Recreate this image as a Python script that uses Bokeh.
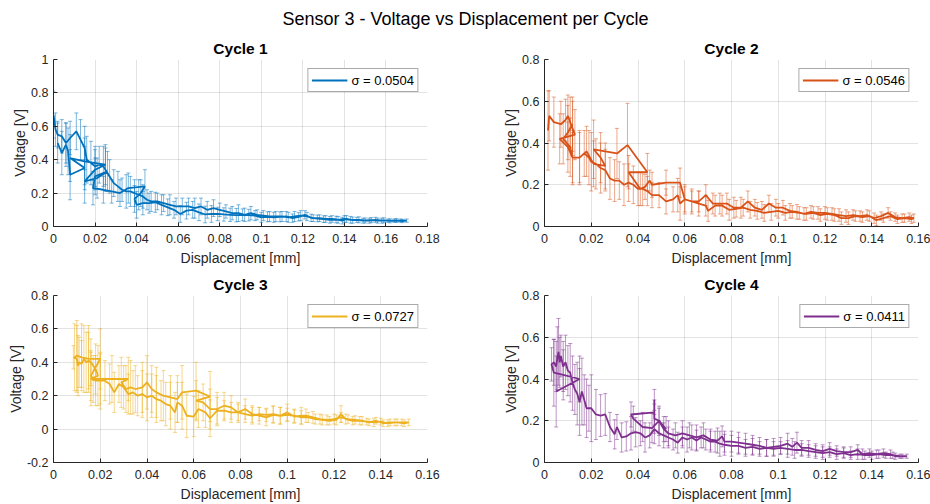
import numpy as np
from bokeh.plotting import figure
from bokeh.models import (ColumnDataSource, Whisker, TeeHead, FixedTicker, Legend,
                          LegendItem, Label, Range1d)
from bokeh.layouts import column, row
from bokeh.embed import file_html
from bokeh.resources import INLINE

FONT = "Liberation Sans"

# ---------------- data ----------------
suptitle = "Sensor 3 - Voltage vs Displacement per Cycle"
cycle_titles = ["Cycle 1", "Cycle 2", "Cycle 3", "Cycle 4"]
sigma_labels = ["σ = 0.0504", "σ = 0.0546", "σ = 0.0727", "σ = 0.0411"]
colors = ["#0072BD", "#D95319", "#EDB120", "#7E2F8E"]

x_ticks_1 = [0, 0.02, 0.04, 0.06, 0.08, 0.1, 0.12, 0.14, 0.16, 0.18]
x_labels_1 = ["0", "0.02", "0.04", "0.06", "0.08", "0.1", "0.12", "0.14", "0.16", "0.18"]
x_ticks_2 = [0, 0.02, 0.04, 0.06, 0.08, 0.1, 0.12, 0.14, 0.16]
x_labels_2 = ["0", "0.02", "0.04", "0.06", "0.08", "0.1", "0.12", "0.14", "0.16"]
y_ticks_1 = [0, 0.2, 0.4, 0.6, 0.8, 1]
y_labels_1 = ["0", "0.2", "0.4", "0.6", "0.8", "1"]
y_ticks_2 = [0, 0.2, 0.4, 0.6, 0.8]
y_labels_2 = ["0", "0.2", "0.4", "0.6", "0.8"]
y_ticks_3 = [-0.2, 0, 0.2, 0.4, 0.6, 0.8]
y_labels_3 = ["-0.2", "0", "0.2", "0.4", "0.6", "0.8"]

c1_disp = [
    0.000, 0.001, 0.002, 0.004, 0.006, 0.008, 0.011, 0.013, 0.015, 0.016,
    0.018, 0.020, 0.022, 0.024, 0.025, 0.027, 0.029, 0.031, 0.033, 0.035,
    0.037, 0.039, 0.041, 0.043, 0.045, 0.047, 0.050, 0.053, 0.056, 0.059,
    0.062, 0.065, 0.068, 0.071, 0.074, 0.077, 0.080, 0.083, 0.086, 0.089,
    0.092, 0.095, 0.098, 0.101, 0.104, 0.107, 0.110, 0.113, 0.116, 0.119,
    0.122, 0.125, 0.128, 0.131, 0.134, 0.137, 0.140, 0.143, 0.146, 0.149,
    0.152, 0.155, 0.158, 0.161, 0.164, 0.167, 0.170,
    0.168, 0.165, 0.162, 0.159, 0.156, 0.153, 0.150, 0.147, 0.144, 0.141,
    0.139, 0.136, 0.133, 0.130, 0.127, 0.124, 0.121, 0.118, 0.115, 0.112,
    0.109, 0.106, 0.103, 0.100, 0.097, 0.094, 0.091, 0.088, 0.085, 0.082,
    0.079, 0.076, 0.073, 0.070, 0.067, 0.064, 0.061, 0.058, 0.055, 0.052,
    0.049, 0.046, 0.043, 0.040, 0.039, 0.042, 0.044, 0.036, 0.032, 0.028,
    0.024, 0.019, 0.020, 0.026, 0.021, 0.015, 0.020, 0.025, 0.015, 0.008,
    0.015, 0.008, 0.007, 0.006, 0.004, 0.002]
c1_volt = [
    0.67, 0.58, 0.55, 0.54, 0.50, 0.53, 0.57, 0.52, 0.47, 0.40,
    0.38, 0.36, 0.37, 0.36, 0.34, 0.30, 0.26, 0.24, 0.22, 0.21,
    0.21, 0.20, 0.19, 0.18, 0.16, 0.15, 0.15, 0.14, 0.13, 0.12,
    0.12, 0.12, 0.11, 0.12, 0.10, 0.11, 0.10, 0.09, 0.08, 0.08,
    0.07, 0.08, 0.07, 0.065, 0.06, 0.06, 0.06, 0.055, 0.06, 0.065,
    0.06, 0.05, 0.05, 0.045, 0.045, 0.04, 0.045, 0.04, 0.04, 0.035,
    0.035, 0.04, 0.035, 0.035, 0.035, 0.035, 0.035,
    0.033, 0.036, 0.034, 0.037, 0.035, 0.038, 0.036, 0.040, 0.038, 0.045,
    0.035, 0.042, 0.040, 0.044, 0.048, 0.052, 0.070, 0.058, 0.050, 0.060,
    0.058, 0.055, 0.058, 0.055, 0.065, 0.068, 0.070, 0.068, 0.070, 0.072,
    0.075, 0.075, 0.072, 0.085, 0.10, 0.095, 0.075, 0.10, 0.115, 0.13,
    0.145, 0.14, 0.14, 0.13, 0.165, 0.20, 0.24, 0.23, 0.20, 0.21,
    0.22, 0.23, 0.30, 0.33, 0.29, 0.27, 0.34, 0.37, 0.39, 0.41,
    0.35, 0.31, 0.45, 0.49, 0.44, 0.50]
c1_err = [
    0.14, 0.10, 0.08, 0.10, 0.12, 0.10, 0.11, 0.12, 0.13, 0.14,
    0.13, 0.12, 0.11, 0.12, 0.13, 0.10, 0.08, 0.09, 0.07, 0.10,
    0.09, 0.08, 0.09, 0.07, 0.06, 0.06, 0.05, 0.05, 0.06, 0.05,
    0.05, 0.05, 0.06, 0.05, 0.05, 0.05, 0.04, 0.04, 0.04, 0.05,
    0.04, 0.04, 0.03, 0.03, 0.03, 0.03, 0.03, 0.03, 0.03, 0.03,
    0.025, 0.02, 0.02, 0.02, 0.02, 0.02, 0.02, 0.02, 0.015, 0.015,
    0.015, 0.015, 0.015, 0.01, 0.01, 0.01, 0.01,
    0.01, 0.012, 0.012, 0.015, 0.015, 0.015, 0.015, 0.018, 0.018, 0.02,
    0.02, 0.02, 0.02, 0.02, 0.02, 0.022, 0.025, 0.025, 0.025, 0.03,
    0.03, 0.03, 0.03, 0.03, 0.03, 0.035, 0.035, 0.04, 0.04, 0.04,
    0.04, 0.05, 0.05, 0.05, 0.05, 0.05, 0.05, 0.05, 0.05, 0.06,
    0.06, 0.06, 0.07, 0.08, 0.08, 0.08, 0.10, 0.09, 0.08, 0.07,
    0.08, 0.10, 0.11, 0.12, 0.12, 0.13, 0.12, 0.12, 0.14, 0.14,
    0.13, 0.15, 0.14, 0.13, 0.13, 0.12]

c2_disp = [
    0.0015, 0.002, 0.004, 0.007, 0.009, 0.010, 0.011, 0.012, 0.013, 0.0065,
    0.010, 0.012, 0.015, 0.017, 0.019, 0.020, 0.022, 0.024, 0.026, 0.028,
    0.030, 0.032, 0.034, 0.036, 0.038, 0.040, 0.042, 0.044, 0.046, 0.049,
    0.052, 0.055, 0.057, 0.058, 0.060, 0.063, 0.066, 0.069, 0.070, 0.073,
    0.076, 0.079, 0.082, 0.085, 0.088, 0.091, 0.094, 0.097, 0.100, 0.103,
    0.106, 0.109, 0.112, 0.115, 0.118, 0.121, 0.124, 0.127, 0.130, 0.133,
    0.136, 0.139, 0.142, 0.145, 0.148, 0.151, 0.154, 0.157, 0.158,
    0.156, 0.153, 0.150, 0.147, 0.144, 0.141, 0.138, 0.135, 0.132, 0.129,
    0.126, 0.123, 0.120, 0.117, 0.114, 0.111, 0.108, 0.105, 0.102, 0.099,
    0.096, 0.093, 0.090, 0.087, 0.084, 0.081, 0.078, 0.075, 0.072, 0.069,
    0.066, 0.063, 0.060, 0.058, 0.052, 0.046, 0.045, 0.043, 0.041, 0.036,
    0.044, 0.0355, 0.031, 0.021, 0.024, 0.026, 0.021, 0.018, 0.015, 0.012,
    0.011, 0.008, 0.010, 0.012]
c2_volt = [
    0.46, 0.53, 0.50, 0.49, 0.51, 0.53, 0.50, 0.47, 0.44, 0.42,
    0.38, 0.33, 0.33, 0.35, 0.33, 0.31, 0.30, 0.28, 0.27, 0.23,
    0.22, 0.22, 0.20, 0.21, 0.20, 0.18, 0.18, 0.17, 0.15, 0.15,
    0.12, 0.13, 0.15, 0.11, 0.13, 0.12, 0.11, 0.10, 0.075, 0.10,
    0.10, 0.08, 0.085, 0.09, 0.08, 0.075, 0.065, 0.07, 0.075, 0.065,
    0.07, 0.065, 0.06, 0.065, 0.055, 0.06, 0.055, 0.04, 0.04, 0.05,
    0.045, 0.05, 0.03, 0.04, 0.05, 0.035, 0.04, 0.035, 0.04,
    0.045, 0.04, 0.045, 0.065, 0.05, 0.04, 0.055, 0.05, 0.055, 0.05,
    0.055, 0.06, 0.065, 0.065, 0.07, 0.06, 0.07, 0.075, 0.09, 0.09,
    0.11, 0.08, 0.09, 0.12, 0.09, 0.09, 0.11, 0.11, 0.11, 0.15,
    0.12, 0.12, 0.13, 0.21, 0.21, 0.20, 0.22, 0.19, 0.18, 0.26,
    0.26, 0.39, 0.35, 0.37, 0.33, 0.29, 0.30, 0.36, 0.33, 0.33,
    0.38, 0.42, 0.45, 0.49]
c2_err = [
    0.19, 0.12, 0.12, 0.11, 0.10, 0.10, 0.12, 0.13, 0.12, 0.12,
    0.12, 0.13, 0.12, 0.11, 0.13, 0.14, 0.12, 0.12, 0.10, 0.10,
    0.10, 0.09, 0.10, 0.09, 0.09, 0.08, 0.08, 0.07, 0.06, 0.06,
    0.06, 0.06, 0.08, 0.08, 0.07, 0.06, 0.06, 0.05, 0.05, 0.05,
    0.05, 0.05, 0.04, 0.04, 0.04, 0.04, 0.04, 0.04, 0.035, 0.035,
    0.03, 0.03, 0.03, 0.03, 0.03, 0.03, 0.03, 0.03, 0.03, 0.025,
    0.025, 0.025, 0.025, 0.02, 0.02, 0.02, 0.02, 0.02, 0.02,
    0.02, 0.02, 0.02, 0.025, 0.02, 0.025, 0.025, 0.025, 0.025, 0.03,
    0.03, 0.03, 0.03, 0.03, 0.03, 0.03, 0.035, 0.035, 0.035, 0.04,
    0.04, 0.04, 0.04, 0.05, 0.05, 0.05, 0.05, 0.05, 0.05, 0.05,
    0.05, 0.05, 0.06, 0.07, 0.06, 0.06, 0.05, 0.06, 0.08, 0.08,
    0.09, 0.20, 0.12, 0.14, 0.12, 0.11, 0.11, 0.12, 0.13, 0.12,
    0.14, 0.12, 0.13, 0.13]

c3_disp = [
    0.0085, 0.010, 0.0105, 0.011, 0.012, 0.013, 0.014, 0.015, 0.016, 0.018,
    0.019, 0.016, 0.018, 0.020, 0.022, 0.024, 0.026, 0.028, 0.030, 0.032,
    0.034, 0.036, 0.038, 0.040, 0.042, 0.044, 0.046, 0.048, 0.050, 0.052,
    0.053, 0.055, 0.057, 0.060, 0.062, 0.065, 0.067, 0.070, 0.073, 0.076,
    0.079, 0.082, 0.085, 0.088, 0.091, 0.094, 0.097, 0.100, 0.103, 0.106,
    0.109, 0.112, 0.115, 0.118, 0.121, 0.123, 0.125, 0.128, 0.131, 0.134,
    0.137, 0.140, 0.143, 0.146, 0.149, 0.152,
    0.150, 0.147, 0.144, 0.141, 0.138, 0.135, 0.132, 0.129, 0.126, 0.123,
    0.120, 0.117, 0.114, 0.111, 0.108, 0.106, 0.103, 0.100, 0.097, 0.094,
    0.091, 0.088, 0.085, 0.082, 0.079, 0.076, 0.073, 0.070, 0.067, 0.064,
    0.061, 0.067, 0.061, 0.055, 0.053, 0.050, 0.047, 0.044, 0.042, 0.040,
    0.038, 0.035, 0.033, 0.031, 0.029, 0.032, 0.025, 0.020, 0.017, 0.016,
    0.020, 0.015, 0.012, 0.010, 0.009]
c3_volt = [
    0.43, 0.42, 0.38, 0.40, 0.39, 0.42, 0.40, 0.41, 0.40, 0.36,
    0.32, 0.30, 0.29, 0.29, 0.29, 0.27, 0.22, 0.27, 0.25, 0.21,
    0.22, 0.20, 0.21, 0.19, 0.20, 0.18, 0.17, 0.15, 0.14, 0.10,
    0.16, 0.14, 0.08, 0.075, 0.12, 0.10, 0.065, 0.11, 0.11, 0.10,
    0.10, 0.09, 0.08, 0.09, 0.085, 0.09, 0.08, 0.085, 0.08, 0.07,
    0.07, 0.06, 0.055, 0.05, 0.055, 0.09, 0.06, 0.05, 0.05, 0.045,
    0.04, 0.045, 0.035, 0.04, 0.04, 0.04,
    0.035, 0.04, 0.04, 0.035, 0.05, 0.04, 0.05, 0.055, 0.06, 0.07,
    0.06, 0.055, 0.06, 0.07, 0.08, 0.08, 0.075, 0.10, 0.08, 0.085,
    0.07, 0.08, 0.09, 0.12, 0.10, 0.13, 0.14, 0.12, 0.12, 0.16,
    0.17, 0.195, 0.23, 0.22, 0.18, 0.19, 0.20, 0.22, 0.24, 0.28,
    0.25, 0.24, 0.25, 0.24, 0.28, 0.30, 0.30, 0.30, 0.30, 0.32,
    0.42, 0.42, 0.43, 0.44, 0.43]
c3_err = [
    0.07, 0.20, 0.18, 0.15, 0.14, 0.20, 0.18, 0.17, 0.14, 0.15,
    0.18, 0.16, 0.15, 0.17, 0.12, 0.12, 0.12, 0.11, 0.13, 0.12,
    0.13, 0.12, 0.14, 0.14, 0.13, 0.14, 0.12, 0.13, 0.14, 0.12,
    0.12, 0.14, 0.13, 0.12, 0.11, 0.09, 0.11, 0.08, 0.06, 0.06,
    0.05, 0.05, 0.05, 0.04, 0.04, 0.05, 0.05, 0.04, 0.04, 0.04,
    0.03, 0.03, 0.03, 0.025, 0.03, 0.05, 0.03, 0.025, 0.025, 0.02,
    0.025, 0.02, 0.02, 0.02, 0.02, 0.02,
    0.02, 0.02, 0.02, 0.02, 0.02, 0.02, 0.025, 0.025, 0.025, 0.03,
    0.03, 0.03, 0.03, 0.035, 0.04, 0.05, 0.04, 0.05, 0.05, 0.05,
    0.05, 0.05, 0.05, 0.06, 0.06, 0.07, 0.08, 0.10, 0.12, 0.11,
    0.12, 0.15, 0.17, 0.16, 0.14, 0.13, 0.15, 0.15, 0.14, 0.16,
    0.15, 0.14, 0.16, 0.14, 0.15, 0.13, 0.14, 0.15, 0.14, 0.15,
    0.18, 0.20, 0.20, 0.21, 0.20]

c4_disp = [
    0.005, 0.015, 0.008, 0.004, 0.003, 0.004, 0.005, 0.0055, 0.006, 0.0065,
    0.007, 0.008, 0.009, 0.010, 0.011, 0.012, 0.013, 0.014, 0.015, 0.016,
    0.017, 0.018, 0.019, 0.020, 0.022, 0.024, 0.026, 0.028, 0.030, 0.031,
    0.033, 0.035, 0.037, 0.039, 0.041, 0.043, 0.045, 0.047, 0.049, 0.051,
    0.053, 0.055, 0.057, 0.059, 0.061, 0.063, 0.065, 0.067, 0.069, 0.071,
    0.073, 0.075, 0.077, 0.080, 0.083, 0.086, 0.089, 0.092, 0.095, 0.098,
    0.101, 0.104, 0.107, 0.110, 0.113, 0.116, 0.119, 0.122, 0.125, 0.128,
    0.131, 0.134, 0.137, 0.140, 0.143, 0.146, 0.149, 0.152, 0.155,
    0.153, 0.150, 0.148, 0.145, 0.142, 0.139, 0.136, 0.134, 0.131, 0.128,
    0.125, 0.122, 0.119, 0.116, 0.113, 0.110, 0.108, 0.106, 0.104, 0.101,
    0.098, 0.095, 0.092, 0.089, 0.086, 0.083, 0.080, 0.077, 0.076, 0.074,
    0.071, 0.068, 0.065, 0.062, 0.059, 0.056, 0.053, 0.051, 0.049, 0.047,
    0.047, 0.047, 0.037, 0.038, 0.042, 0.046, 0.049, 0.052]
c4_volt = [
    0.34, 0.40, 0.42, 0.43, 0.47, 0.48, 0.46, 0.50, 0.53, 0.48,
    0.51, 0.46, 0.48, 0.44, 0.43, 0.38, 0.35, 0.33, 0.29, 0.34,
    0.30, 0.26, 0.26, 0.26, 0.23, 0.225, 0.23, 0.17, 0.135, 0.17,
    0.12, 0.125, 0.14, 0.145, 0.14, 0.12, 0.13, 0.16, 0.14, 0.13,
    0.12, 0.11, 0.095, 0.12, 0.11, 0.12, 0.105, 0.12, 0.11, 0.10,
    0.10, 0.09, 0.085, 0.08, 0.08, 0.07, 0.075, 0.065, 0.07, 0.065,
    0.07, 0.065, 0.06, 0.06, 0.055, 0.05, 0.045, 0.05, 0.04, 0.045,
    0.035, 0.04, 0.035, 0.035, 0.04, 0.035, 0.035, 0.03, 0.03,
    0.03, 0.03, 0.04, 0.045, 0.04, 0.045, 0.04, 0.06, 0.05, 0.05,
    0.055, 0.065, 0.055, 0.06, 0.07, 0.07, 0.095, 0.075, 0.09, 0.08,
    0.075, 0.07, 0.08, 0.085, 0.09, 0.095, 0.10, 0.10, 0.125, 0.105,
    0.11, 0.13, 0.12, 0.13, 0.14, 0.13, 0.14, 0.16, 0.20, 0.21,
    0.30, 0.24, 0.23, 0.21, 0.17, 0.165, 0.20, 0.16]
c4_err = [
    0.17, 0.11, 0.12, 0.16, 0.08, 0.11, 0.12, 0.15, 0.16, 0.12,
    0.10, 0.12, 0.13, 0.12, 0.14, 0.13, 0.12, 0.15, 0.16, 0.16,
    0.12, 0.14, 0.11, 0.16, 0.12, 0.10, 0.10, 0.07, 0.07, 0.06,
    0.07, 0.07, 0.08, 0.07, 0.06, 0.07, 0.06, 0.07, 0.06, 0.06,
    0.05, 0.05, 0.05, 0.05, 0.06, 0.06, 0.05, 0.05, 0.05, 0.05,
    0.05, 0.06, 0.05, 0.05, 0.04, 0.04, 0.04, 0.035, 0.04, 0.035,
    0.03, 0.04, 0.04, 0.03, 0.03, 0.03, 0.03, 0.025, 0.025, 0.025,
    0.02, 0.025, 0.02, 0.02, 0.02, 0.015, 0.015, 0.01, 0.01,
    0.01, 0.015, 0.02, 0.02, 0.02, 0.02, 0.025, 0.025, 0.025, 0.025,
    0.025, 0.03, 0.03, 0.03, 0.035, 0.035, 0.05, 0.04, 0.05, 0.04,
    0.04, 0.04, 0.04, 0.045, 0.05, 0.05, 0.05, 0.05, 0.05, 0.06,
    0.05, 0.06, 0.06, 0.06, 0.06, 0.06, 0.06, 0.06, 0.06, 0.07,
    0.05, 0.06, 0.06, 0.06, 0.07, 0.07, 0.07, 0.06]

# ---------------- drawing ----------------
TXT = "#262626"


def make_panel(disp, volt, err, color, label, title, xt, xl, yt, yl,
               left, right, top, bottom):
    x = np.asarray(disp, dtype=float)
    v = np.asarray(volt, dtype=float)
    e = np.asarray(err, dtype=float)
    src = ColumnDataSource(dict(x=x, v=v, upper=v + e, lower=v - e))
    p = figure(width=left + 374 + right, height=top + 167 + bottom,
               x_range=Range1d(xt[0], xt[-1]), y_range=Range1d(yt[0], yt[-1]),
               output_backend="svg", toolbar_location=None,
               min_border_left=left, min_border_right=right,
               min_border_top=top, min_border_bottom=bottom)
    p.outline_line_color = None
    p.background_fill_color = "white"
    p.border_fill_color = "white"

    p.title.text = title
    p.title.align = "center"
    p.title.text_font = FONT
    p.title.text_font_size = "15.5px"
    p.title.text_font_style = "bold"
    p.title.text_color = "black"
    p.title.standoff = 6

    p.xaxis.ticker = FixedTicker(ticks=xt)
    p.xaxis.major_label_overrides = dict(zip(xt, xl))
    p.yaxis.ticker = FixedTicker(ticks=yt)
    p.yaxis.major_label_overrides = dict(zip(yt, yl))
    p.xaxis.axis_label = "Displacement [mm]"
    p.yaxis.axis_label = "Voltage [V]"
    for ax in (p.xaxis, p.yaxis):
        ax.axis_line_color = TXT
        ax.axis_line_width = 1
        ax.major_tick_line_color = TXT
        ax.major_tick_in = 4
        ax.major_tick_out = 0
        ax.minor_tick_line_color = None
        ax.major_label_text_font = FONT
        ax.major_label_text_font_size = "12.5px"
        ax.major_label_text_color = TXT
        ax.axis_label_text_font = FONT
        ax.axis_label_text_font_size = "14px"
        ax.axis_label_text_font_style = "normal"
        ax.axis_label_text_color = TXT
    p.xaxis.major_label_standoff = 7
    p.yaxis.major_label_standoff = 5
    p.xaxis.axis_label_standoff = 4
    p.yaxis.axis_label_standoff = 0

    p.grid.grid_line_color = TXT
    p.grid.grid_line_alpha = 0.13

    wh = Whisker(source=src, base="x", upper="upper", lower="lower",
                 dimension="height", line_color=color, line_alpha=0.5,
                 line_width=1, level="underlay",
                 upper_head=TeeHead(size=4, line_color=color, line_alpha=0.5, line_width=1),
                 lower_head=TeeHead(size=4, line_color=color, line_alpha=0.5, line_width=1))
    p.add_layout(wh)
    ln = p.line(x="x", y="v", source=src, line_color=color, line_width=1.8)
    mk = p.scatter(x=[np.nan], y=[np.nan], marker="dash", angle=np.pi / 2,
                   line_color=color, line_alpha=0.7, line_width=1, size=10)

    leg = Legend(items=[LegendItem(label=label, renderers=[ln, mk])],
                 location="top_right", orientation="vertical",
                 label_text_font=FONT, label_text_font_size="13px",
                 label_text_color="black", border_line_color="#555555",
                 border_line_width=1, background_fill_color="white",
                 background_fill_alpha=1, padding=3, margin=9,
                 glyph_width=36, glyph_height=16, label_height=16,
                 label_standoff=4, spacing=0)
    p.add_layout(leg)
    return p


header = figure(width=930, height=34, x_range=(0, 1), y_range=(0, 1),
                output_backend="svg", toolbar_location=None,
                x_axis_location=None, y_axis_location=None,
                min_border_left=0, min_border_right=0, min_border_top=0,
                min_border_bottom=0)
header.grid.visible = False
header.outline_line_color = None
header.add_layout(Label(x=0.5, y=0.45, text=suptitle, text_align="center",
                        text_baseline="middle", text_font=FONT,
                        text_font_size="18px", text_color="black"))

p1 = make_panel(c1_disp, c1_volt, c1_err, colors[0], sigma_labels[0], cycle_titles[0],
                x_ticks_1, x_labels_1, y_ticks_1, y_labels_1, 53, 38, 25, 44)
p2 = make_panel(c2_disp, c2_volt, c2_err, colors[1], sigma_labels[1], cycle_titles[1],
                x_ticks_2, x_labels_2, y_ticks_2, y_labels_2, 79, 12, 25, 44)
p3 = make_panel(c3_disp, c3_volt, c3_err, colors[2], sigma_labels[2], cycle_titles[2],
                x_ticks_2, x_labels_2, y_ticks_3, y_labels_3, 53, 38, 25, 42)
p4 = make_panel(c4_disp, c4_volt, c4_err, colors[3], sigma_labels[3], cycle_titles[3],
                x_ticks_2, x_labels_2, y_ticks_2, y_labels_2, 79, 12, 25, 42)

layout = column(header, row(p1, p2), row(p3, p4))
open("out.html", "w").write(file_html(layout, INLINE))
